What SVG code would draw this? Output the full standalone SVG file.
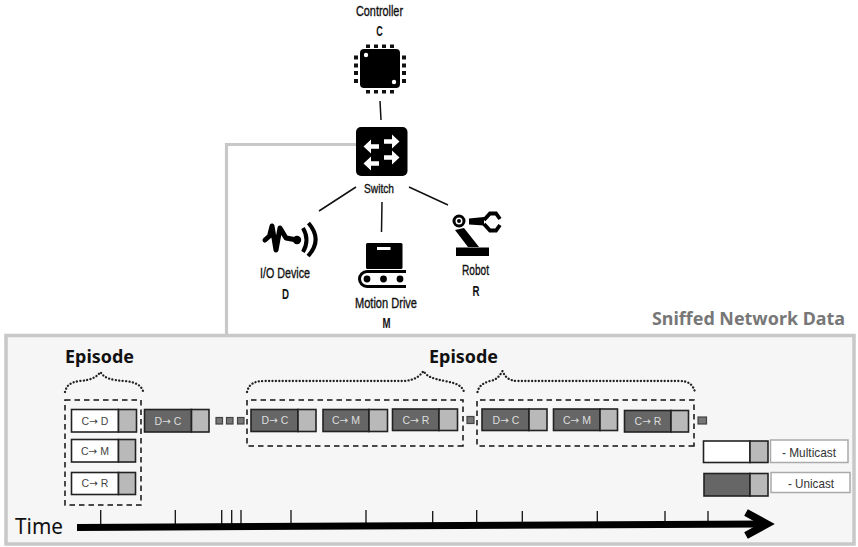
<svg xmlns="http://www.w3.org/2000/svg" width="858" height="547" viewBox="0 0 858 547">
<style>
.lbl{font-family:"Liberation Sans",Arial,sans-serif;font-weight:400;font-size:14.5px;fill:#111;stroke:#111;stroke-width:.35px;text-anchor:middle}
.sub{font-family:"Liberation Sans",Arial,sans-serif;font-weight:700;font-size:14.5px;fill:#111;text-anchor:middle}
.ep{font-family:"Noto Sans",sans-serif;font-weight:700;font-size:18px;fill:#111}
.pk{stroke:#222;stroke-width:1.6}
.w{fill:#fff}.d{fill:#666}.g{fill:#b9b9b9}
.t{font-family:"Liberation Sans",Arial,sans-serif;font-size:10.5px;text-anchor:middle}
.a{font-family:"DejaVu Sans",sans-serif;font-size:10.5px}
.tw{fill:#444}.td{fill:#ddd}
.sq{fill:#777;stroke:#444;stroke-width:1.2}
.dash{fill:none;stroke:#111;stroke-width:1.5;stroke-dasharray:5.5 4}
.brace{fill:none;stroke:#222;stroke-width:2.3;stroke-linecap:round;stroke-dasharray:.1 3.3}
.tick{stroke:#111;stroke-width:1.3}
.link{stroke:#111;stroke-width:1.5;fill:none}
.legend{fill:#fff;stroke:#aaa;stroke-width:1.5}
.lt{font-family:"Liberation Sans",Arial,sans-serif;font-size:13.5px;fill:#333;text-anchor:middle}
</style>
<rect width="858" height="547" fill="#fff"/>
<g id="connectors">
<path d="M358 144.500H226.500V336" fill="none" stroke="#c8c8c8" stroke-width="3.200"/>
<path class="link" d="M380 101L381 120M356 187L319 211M382 202L381.500 232M409 187L448 205"/>
</g>
<g id="panel">
<rect x="6" y="335.500" width="848" height="208.500" fill="#f6f6f6" stroke="#c8c8c8" stroke-width="3.500"/>
<text x="652" y="325" font-family="Noto Sans,sans-serif" font-weight="700" font-size="17.500" fill="#777" textLength="193" lengthAdjust="spacingAndGlyphs">Sniffed Network Data</text>
</g>
<g id="controller">
<text class="lbl" x="379.500" y="15.500" textLength="47" lengthAdjust="spacingAndGlyphs">Controller</text>
<text class="sub" x="379.500" y="36" textLength="6.500" lengthAdjust="spacingAndGlyphs">C</text>
<rect x="360" y="49" width="40" height="39" rx="4" fill="#000"/>
<circle cx="366" cy="55" r="2.200" fill="#fff"/><circle cx="394" cy="82" r="2.200" fill="#fff"/>
<path fill="#111" d="M366 44.500h4v3.500h-4zM374 44.500h4v3.500h-4zM382 44.500h4v3.500h-4zM390 44.500h4v3.500h-4zM366 90h4v3.500h-4zM374 90h4v3.500h-4zM382 90h4v3.500h-4zM390 90h4v3.500h-4zM354 55.500h4v4h-4zM354 63.500h4v4h-4zM354 71h4v4h-4zM354 79h4v4h-4zM402 55.500h4v4h-4zM402 63.500h4v4h-4zM402 71h4v4h-4zM402 79h4v4h-4z"/>
</g>
<g id="switch">
<rect x="356" y="127" width="51.500" height="49" rx="5" fill="#000"/>
<g stroke="#fff" stroke-width="4.500" fill="none">
<path d="M384 141.500H394M379 146.500H369M384 157.500H394M379 163.500H369"/>
</g>
<path fill="#fff" d="M392 134.500l7.500 7-7.500 7zM371 139.500l-7.500 7 7.500 7zM392 150.500l7.500 7-7.500 7zM371 156.500l-7.500 7 7.500 7z"/>
<text class="lbl" x="379" y="192.500" style="font-size:13px" textLength="30" lengthAdjust="spacingAndGlyphs">Switch</text>
</g>
<g id="io-device">
<path d="M265 240L269.500 236L272 226L276 250L280 228L286 238L297 240" fill="none" stroke="#000" stroke-width="5" stroke-linejoin="round" stroke-linecap="round"/>
<circle cx="297" cy="240" r="4.200" fill="#000"/>
<path d="M303 228Q310 240 303 252M308.500 223Q323 240 308 256" fill="none" stroke="#000" stroke-width="4"/>
<text class="lbl" x="285" y="278" textLength="50" lengthAdjust="spacingAndGlyphs">I/O Device</text>
<text class="sub" x="285.500" y="299" textLength="7" lengthAdjust="spacingAndGlyphs">D</text>
</g>
<g id="motion-drive">
<rect x="366" y="243" width="36.500" height="26" rx="1.500" fill="#000"/>
<rect x="377" y="247" width="13.500" height="3" fill="#fff"/>
<path d="M406 271.500H367A7.500 7.500 0 0 0 367 286.500H406" fill="none" stroke="#000" stroke-width="3"/>
<circle cx="367" cy="279" r="3.400" fill="#000"/><circle cx="383.500" cy="279" r="3.400" fill="#000"/><circle cx="400" cy="279" r="3.400" fill="#000"/>
<text class="lbl" x="386" y="308" textLength="62" lengthAdjust="spacingAndGlyphs">Motion Drive</text>
<text class="sub" x="386.500" y="328" textLength="8" lengthAdjust="spacingAndGlyphs">M</text>
</g>
<g id="robot">
<circle cx="459" cy="221" r="5" fill="#fff" stroke="#000" stroke-width="3"/><circle cx="459" cy="221" r="2" fill="#000"/>
<path fill="#000" d="M469 218.500L484 217V225.500L469 224.500zM455 230L464 228L479 247H468zM456 247.500H489V256H456z"/>
<path d="M484 220L490 213.500H496L500 219M484 224L490 230.500H496L500 225" fill="none" stroke="#000" stroke-width="3.800"/>
<text class="lbl" x="475.500" y="275" textLength="27" lengthAdjust="spacingAndGlyphs">Robot</text>
<text class="sub" x="476" y="296" textLength="7" lengthAdjust="spacingAndGlyphs">R</text>
</g>
<g id="episode-1">
<text class="ep" x="65" y="363" textLength="69" lengthAdjust="spacingAndGlyphs">Episode</text>
<path class="brace" d="M65 392C67 384 72 382 80 381C90 380 96 378 100.500 372C104 378 110 380 125 381C135 382 141 385 143 391"/>
<rect class="dash" x="65" y="400" width="76" height="105"/>
<g id="p1"><rect class="pk w" x="71.500" y="409.500" width="47" height="22.500"/><rect class="pk g" x="118.500" y="409.500" width="18" height="22.500"/><text class="t tw" x="95" y="424.500">C<tspan class="a">→</tspan> D</text></g>
<g id="p2"><rect class="pk w" x="71.500" y="439.500" width="47" height="22.500"/><rect class="pk g" x="118.500" y="439.500" width="17" height="22.500"/><text class="t tw" x="95" y="454.500">C<tspan class="a">→</tspan> M</text></g>
<g id="p3"><rect class="pk w" x="71.500" y="472.500" width="47" height="22"/><rect class="pk g" x="118.500" y="472.500" width="17" height="22"/><text class="t tw" x="95" y="487">C<tspan class="a">→</tspan> R</text></g>
</g>
<g id="stream-a">
<g id="p4"><rect class="pk d" x="144.500" y="409.500" width="47" height="22.500"/><rect class="pk g" x="191.500" y="409.500" width="17.500" height="22.500"/><text class="t td" x="168" y="424.500">D<tspan class="a">→</tspan> C</text></g>
<rect class="sq" x="216" y="417.500" width="6.500" height="6.500"/><rect class="sq" x="226.500" y="417.500" width="6.500" height="6.500"/><rect class="sq" x="237.500" y="417.500" width="6.500" height="6.500"/>
</g>
<g id="episode-2">
<text class="ep" x="429" y="363" textLength="69" lengthAdjust="spacingAndGlyphs">Episode</text>
<path class="brace" d="M247 392C249 384 254 381 265 381H405C414 380 419 377 423.500 371C427 377 434 379 445 381C455 383 462 385 464 392"/>
<path class="dash" d="M463 446H247V400H463z"/>
<g id="p5"><rect class="pk d" x="251" y="409.500" width="47" height="22"/><rect class="pk g" x="298" y="409.500" width="18" height="22"/><text class="t td" x="275" y="424">D<tspan class="a">→</tspan> C</text></g>
<g id="p6"><rect class="pk d" x="323" y="409.500" width="46" height="22"/><rect class="pk g" x="369" y="409.500" width="18.500" height="22"/><text class="t td" x="346" y="424">C<tspan class="a">→</tspan> M</text></g>
<g id="p7"><rect class="pk d" x="392.500" y="409" width="46.500" height="21.500"/><rect class="pk g" x="439" y="409" width="18.500" height="21.500"/><text class="t td" x="416" y="423.500">C<tspan class="a">→</tspan> R</text></g>
</g>
<rect class="sq" id="gap-a" x="467" y="416.500" width="7" height="7"/>
<g id="episode-3">
<path class="brace" d="M477.500 392C479 385 484 383 490 381C496 380 499 377 502.500 371C505 377 509 381 518 381H680C689 381 693 385 695 392"/>
<path class="dash" d="M694 446H477V400H694z"/>
<g id="p8"><rect class="pk d" x="482" y="409" width="47" height="21.500"/><rect class="pk g" x="529" y="409" width="18" height="21.500"/><text class="t td" x="506" y="423.500">D<tspan class="a">→</tspan> C</text></g>
<g id="p9"><rect class="pk d" x="553.500" y="409" width="46.500" height="21.500"/><rect class="pk g" x="600" y="409" width="17.500" height="21.500"/><text class="t td" x="577" y="423.500">C<tspan class="a">→</tspan> M</text></g>
<g id="p10"><rect class="pk d" x="624.500" y="410.500" width="46.500" height="21.500"/><rect class="pk g" x="671" y="410.500" width="17.500" height="21.500"/><text class="t td" x="648" y="425">C<tspan class="a">→</tspan> R</text></g>
</g>
<rect class="sq" id="gap-b" x="698" y="417" width="8.500" height="7"/>
<g id="legend-multicast">
<rect class="pk w" x="703.500" y="441" width="46.500" height="21.500"/><rect class="pk g" x="750" y="441" width="18" height="21.500"/>
<rect class="legend" x="770.500" y="440" width="77.500" height="22.500"/>
<text class="lt" x="809" y="456.500" textLength="54" lengthAdjust="spacingAndGlyphs">- Multicast</text>
</g>
<g id="legend-unicast">
<rect class="pk d" x="704" y="473.500" width="46" height="22.500"/><rect class="pk g" x="750" y="473.500" width="18" height="22.500"/>
<rect class="legend" x="771" y="472.500" width="79" height="20"/>
<text class="lt" x="811" y="487.500" textLength="46" lengthAdjust="spacingAndGlyphs">- Unicast</text>
</g>
<g id="timeline">
<path class="tick" d="M100.700 510V525M175.300 510V525M221.700 510V525M231.700 510V525M241 510V525M291 510V525M366 510V525M432.700 511V525M476.700 510V525M522.300 511V525M597.300 511V525M665 511V525M708 511V525"/>
<path d="M77 527.500L765 524" fill="none" stroke="#000" stroke-width="7"/>
<path d="M746 512.500L767 524L746 535.500" fill="none" stroke="#000" stroke-width="7.500"/>
<text x="15" y="534" font-family="Noto Sans,sans-serif" font-size="21" fill="#111" textLength="48" lengthAdjust="spacingAndGlyphs">Time</text>
</g>
</svg>
